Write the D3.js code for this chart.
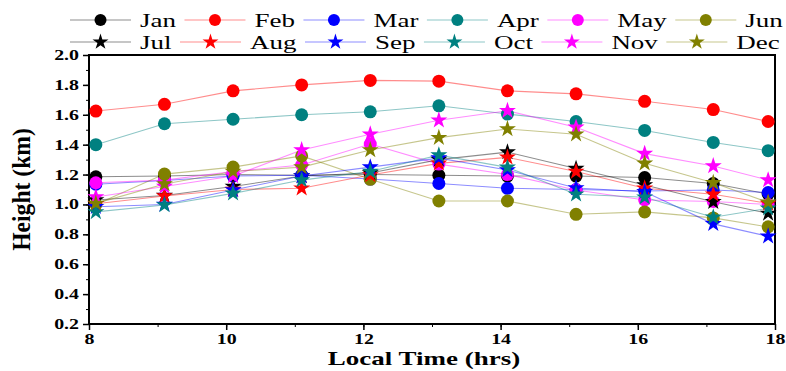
<!DOCTYPE html>
<html>
<head>
<meta charset="utf-8">
<script src="https://cdn.jsdelivr.net/npm/d3@7"></script>
<style>
  body { margin: 0; background: #ffffff; }
  text { font-family: "Liberation Serif", "Times New Roman", serif; }
</style>
</head>
<body>
<div id="chart"></div>
<script>
// local time of each sounding (hrs)
var hours = [8.1, 9.1, 10.1, 11.1, 12.1, 13.1, 14.1, 15.1, 16.1, 17.1, 17.9];

// height (km) per month
var jan = [1.185, 1.19, 1.20, 1.195, 1.20, 1.195, 1.19, 1.19, 1.18, 1.14, 1.07];
var feb = [1.625, 1.67, 1.76, 1.80, 1.83, 1.825, 1.76, 1.74, 1.69, 1.635, 1.555];
var mar = [1.135, 1.16, 1.19, 1.195, 1.17, 1.14, 1.108, 1.10, 1.09, 1.097, 1.08];
var apr = [1.40, 1.54, 1.57, 1.60, 1.62, 1.66, 1.605, 1.555, 1.495, 1.415, 1.36];
var may = [1.145, 1.163, 1.22, 1.264, 1.404, 1.27, 1.20, 1.097, 1.03, 1.02, 1.00];
var jun = [1.00, 1.203, 1.25, 1.325, 1.168, 1.023, 1.023, 0.934, 0.95, 0.91, 0.85];
var jul = [1.03, 1.06, 1.12, 1.19, 1.21, 1.30, 1.35, 1.24, 1.13, 1.018, 0.94];
var aug = [1.005, 1.056, 1.10, 1.108, 1.197, 1.275, 1.315, 1.22, 1.108, 1.068, 1.007];
var sep = [0.985, 1.00, 1.097, 1.19, 1.25, 1.31, 1.23, 1.11, 1.085, 0.87, 0.787];
var oct = [0.95, 0.996, 1.074, 1.163, 1.22, 1.33, 1.248, 1.068, 1.048, 0.914, 0.974];
var nov = [1.05, 1.12, 1.19, 1.364, 1.47, 1.563, 1.627, 1.516, 1.34, 1.257, 1.163];
var dec = [1.007, 1.137, 1.22, 1.25, 1.364, 1.447, 1.505, 1.47, 1.275, 1.145, 1.014];

var months = ["Jan", "Feb", "Mar", "Apr", "May", "Jun", "Jul", "Aug", "Sep", "Oct", "Nov", "Dec"];
var values = [jan, feb, mar, apr, may, jun, jul, aug, sep, oct, nov, dec];
var colors = ["#000000", "#ff0000", "#0000ff", "#008080", "#ff00ff", "#808000"];

var series = months.map(function(m, i) {
  return {
    name: m,
    color: colors[i % 6],
    shape: i < 6 ? "circle" : "star",
    points: hours.map(function(h, j) { return { x: h, y: values[i][j] }; })
  };
});

// the picture is stretched sideways, so text gets a horizontal scale
var stretch = 1.42;

var margin = { top: 55, right: 11, bottom: 47, left: 89 },
  width = 786 - margin.left - margin.right,
  height = 371 - margin.top - margin.bottom;

var svg = d3.select("#chart")
  .append("svg")
  .attr("width", 786)
  .attr("height", 371);

var chart = svg.append("g")
  .attr("transform", "translate(" + margin.left + "," + margin.top + ")");

var x = d3.scaleLinear().domain([8, 18]).range([0, width]);
var y = d3.scaleLinear().domain([0.2, 2.0]).range([height, 0]);

function marker(sel, shape, color, r) {
  if (shape === "circle") {
    sel.append("circle").attr("r", r).attr("fill", color);
  } else {
    sel.append("path")
      .attr("d", d3.symbol().type(d3.symbolStar).size(r * r * 1.25 / 0.8908)())
      .attr("fill", color);
  }
}

// minor ticks
chart.append("g")
  .attr("transform", "translate(0," + height + ")")
  .call(d3.axisBottom(x).ticks(10).tickSize(3).tickFormat(""))
  .call(g => g.select(".domain").remove());
chart.append("g")
  .call(d3.axisLeft(y).ticks(18).tickSize(3).tickFormat(""))
  .call(g => g.select(".domain").remove());

// major ticks + labels
var xAxis = chart.append("g")
  .attr("transform", "translate(0," + height + ")")
  .call(d3.axisBottom(x).tickValues([8, 10, 12, 14, 16, 18]).tickSize(6).tickPadding(4));
var yAxis = chart.append("g")
  .call(d3.axisLeft(y).tickValues(d3.range(0.2, 2.01, 0.2)).tickSize(6).tickPadding(4).tickFormat(d3.format(".1f")));

[xAxis, yAxis].forEach(function(ax) {
  ax.selectAll(".tick line").attr("stroke-width", 1.5);
  ax.selectAll("text")
    .style("font-family", "Liberation Serif")
    .style("font-weight", "bold")
    .style("font-size", "14px")
    .attr("fill", "#000");
  ax.select(".domain").remove();
});
yAxis.selectAll("text").each(function() {
  var t = d3.select(this);
  t.attr("x", (+t.attr("x")) / stretch).attr("transform", "scale(" + stretch + ",1)");
});
xAxis.selectAll("text").attr("transform", "scale(" + stretch + ",1)");

// frame
chart.append("rect")
  .attr("width", width)
  .attr("height", height)
  .attr("fill", "none")
  .attr("stroke", "#000")
  .attr("stroke-width", 2);

// lines
var line = d3.line().x(d => x(d.x)).y(d => y(d.y));
series.forEach(function(s) {
  chart.append("path")
    .datum(s.points)
    .attr("d", line)
    .attr("fill", "none")
    .attr("stroke", s.color)
    .attr("stroke-opacity", 0.45)
    .attr("stroke-width", 1.1);
});

// markers
series.forEach(function(s) {
  chart.selectAll(null)
    .data(s.points)
    .enter()
    .append("g")
    .attr("transform", d => "translate(" + x(d.x) + "," + y(d.y) + ")")
    .each(function() { marker(d3.select(this), s.shape, s.color, s.shape === "circle" ? 6.5 : 8); });
});

// axis titles
svg.append("text")
  .attr("transform", "translate(" + (margin.left + width / 2 - 8) + ",365) scale(" + stretch + ",1)")
  .attr("text-anchor", "middle")
  .style("font-weight", "bold")
  .style("font-size", "19px")
  .text("Local Time (hrs)");

svg.append("text")
  .attr("transform", "translate(30," + (margin.top + height / 2) + ") rotate(-90) scale(1.18,1.25)")
  .attr("text-anchor", "middle")
  .style("font-weight", "bold")
  .style("font-size", "20px")
  .text("Height (km)");

// legend, two rows of six
var legend = svg.append("g");
[0, 1].forEach(function(row) {
  var lx = 70;
  var ly = row === 0 ? 20 : 42;
  series.slice(row * 6, row * 6 + 6).forEach(function(s) {
    var item = legend.append("g");
    item.append("line")
      .attr("x1", lx).attr("x2", lx + 61)
      .attr("y1", ly).attr("y2", ly)
      .attr("stroke", s.color)
      .attr("stroke-opacity", 0.45)
      .attr("stroke-width", 1.2);
    var m = item.append("g").attr("transform", "translate(" + (lx + 30.5) + "," + ly + ")");
    marker(m, s.shape, s.color, s.shape === "circle" ? 6 : 7.5);
    var t = item.append("text")
      .attr("transform", "translate(" + (lx + 70) + "," + (ly + 6.5) + ") scale(" + stretch + ",1)")
      .style("font-size", "19px")
      .attr("fill", "#000")
      .text(s.name);
    var w = t.node().getComputedTextLength() * stretch;
    lx += 61 + 9 + w + 8.5;
  });
});
</script>
</body>
</html>
